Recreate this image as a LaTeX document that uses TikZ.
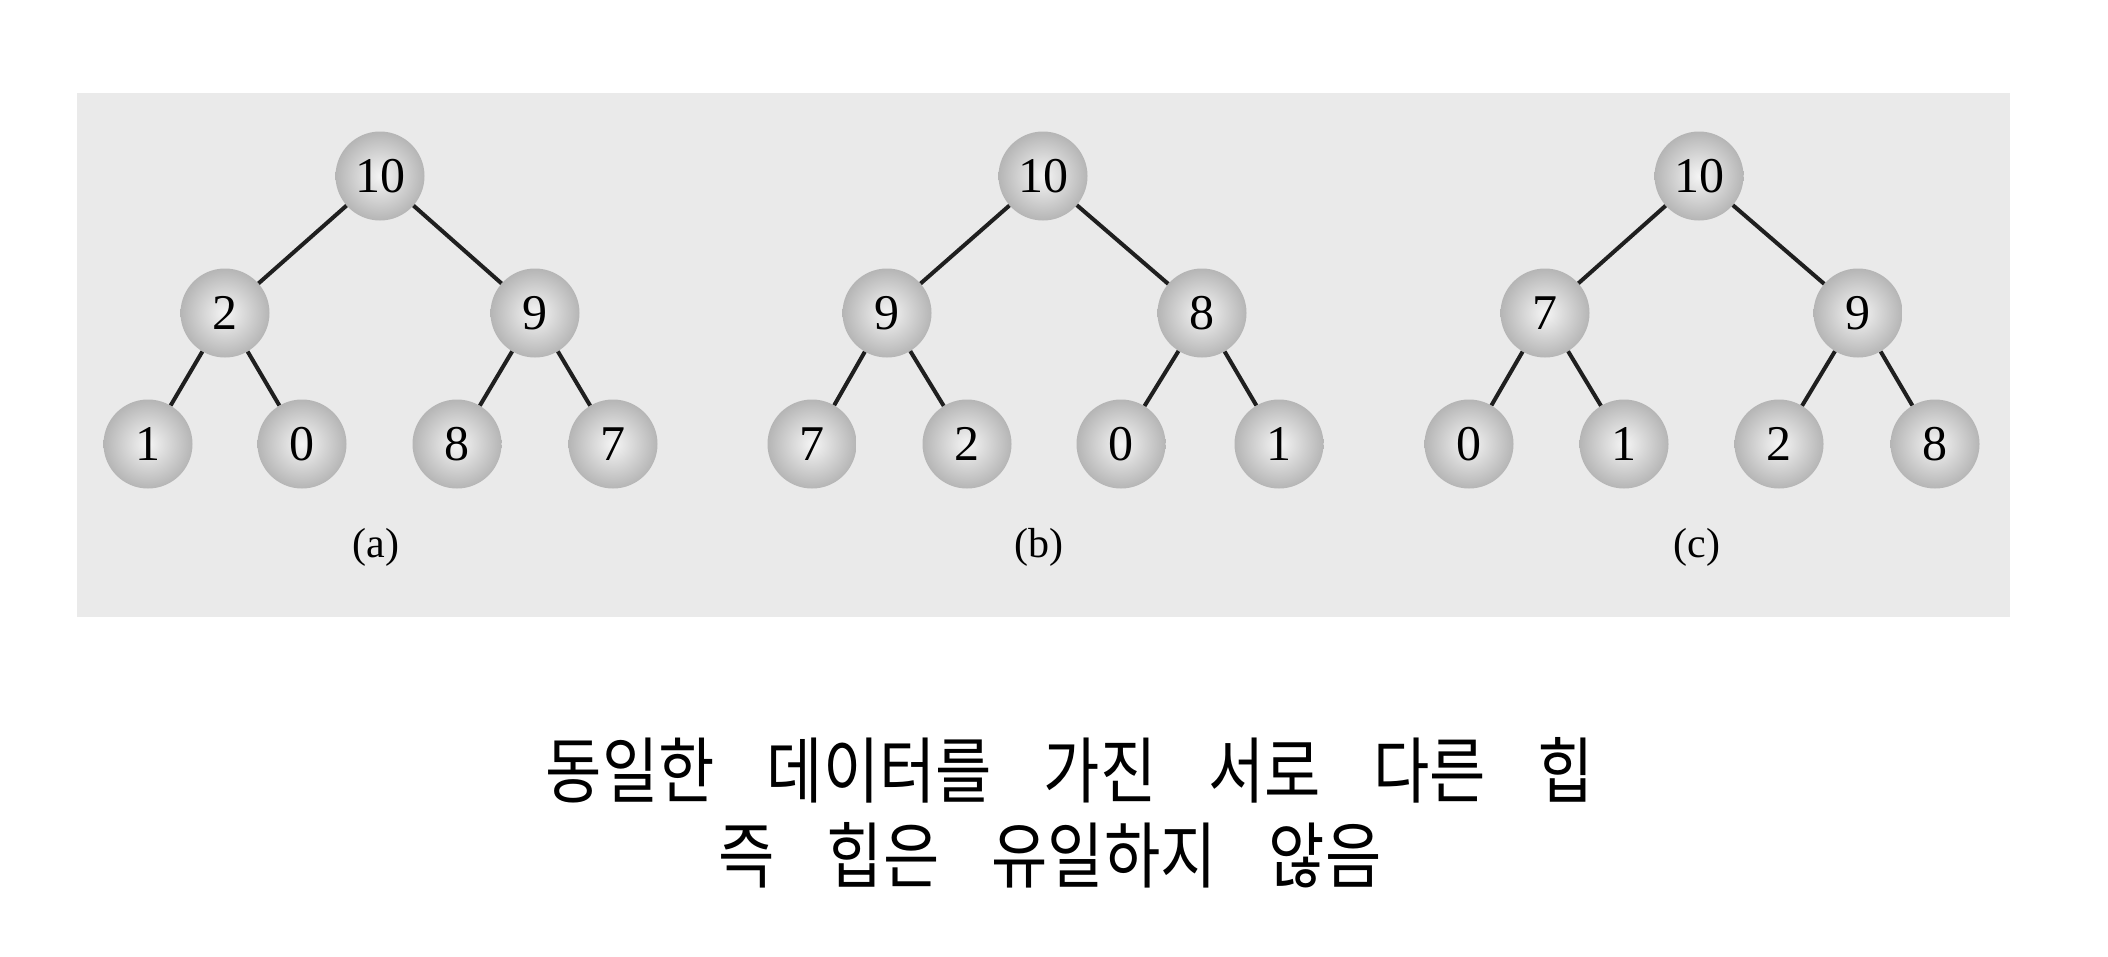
\documentclass[tikz,border=0pt]{standalone}
\usepackage{fontspec}
\setmainfont{Liberation Serif}
\newfontfamily\krfont[FakeStretch=0.85]{Noto Sans CJK KR}
\newcommand\wgap{\hspace{52pt}}
\definecolor{bgbox}{HTML}{EAEAEA}
\tikzset{
  hn/.style={circle, minimum size=89pt, inner sep=0pt, inner color=gray!8, outer color=gray!58,
             font=\fontsize{50}{50}\selectfont},
  ed/.style={line width=4pt, black!88},
  capt/.style={font=\fontsize{42}{42}\selectfont},
  krtext/.style={font=\krfont\fontsize{72}{72}\selectfont}
}
\begin{document}
\begin{tikzpicture}[x=1pt,y=-1pt]
\useasboundingbox (0,0) rectangle (2108,956);
\fill[white] (0,0) rectangle (2108,956);
\fill[bgbox] (77,93) rectangle (2010,617);
% tree (a)
\node[hn] (a0) at (380,176) {10};
\node[hn] (a1) at (225,313) {2};
\node[hn] (a2) at (535,313) {9};
\node[hn] (a3) at (148,444) {1};
\node[hn] (a4) at (302,444) {0};
\node[hn] (a5) at (457,444) {8};
\node[hn] (a6) at (613,444) {7};
\node[capt] (la) at (376,547) {(a)};
\draw[ed] (a0) -- (a1); \draw[ed] (a0) -- (a2);
\draw[ed] (a1) -- (a3); \draw[ed] (a1) -- (a4);
\draw[ed] (a2) -- (a5); \draw[ed] (a2) -- (a6);
% tree (b)
\node[hn] (b0) at (1043,176) {10};
\node[hn] (b1) at (887,313) {9};
\node[hn] (b2) at (1202,313) {8};
\node[hn] (b3) at (812,444) {7};
\node[hn] (b4) at (967,444) {2};
\node[hn] (b5) at (1121,444) {0};
\node[hn] (b6) at (1279,444) {1};
\node[capt] (lb) at (1039,547) {(b)};
\draw[ed] (b0) -- (b1); \draw[ed] (b0) -- (b2);
\draw[ed] (b1) -- (b3); \draw[ed] (b1) -- (b4);
\draw[ed] (b2) -- (b5); \draw[ed] (b2) -- (b6);
% tree (c)
\node[hn] (c0) at (1699,176) {10};
\node[hn] (c1) at (1545,313) {7};
\node[hn] (c2) at (1858,313) {9};
\node[hn] (c3) at (1469,444) {0};
\node[hn] (c4) at (1624,444) {1};
\node[hn] (c5) at (1779,444) {2};
\node[hn] (c6) at (1935,444) {8};
\node[capt] (lc) at (1697,547) {(c)};
\draw[ed] (c0) -- (c1); \draw[ed] (c0) -- (c2);
\draw[ed] (c1) -- (c3); \draw[ed] (c1) -- (c4);
\draw[ed] (c2) -- (c5); \draw[ed] (c2) -- (c6);
% caption text
\node[krtext] (t1) at (1070,770) {동일한\wgap 데이터를\wgap 가진\wgap 서로\wgap 다른\wgap 힙};
\node[krtext] (t2) at (1050,855) {즉\wgap 힙은\wgap 유일하지\wgap 않음};
\end{tikzpicture}
\end{document}
